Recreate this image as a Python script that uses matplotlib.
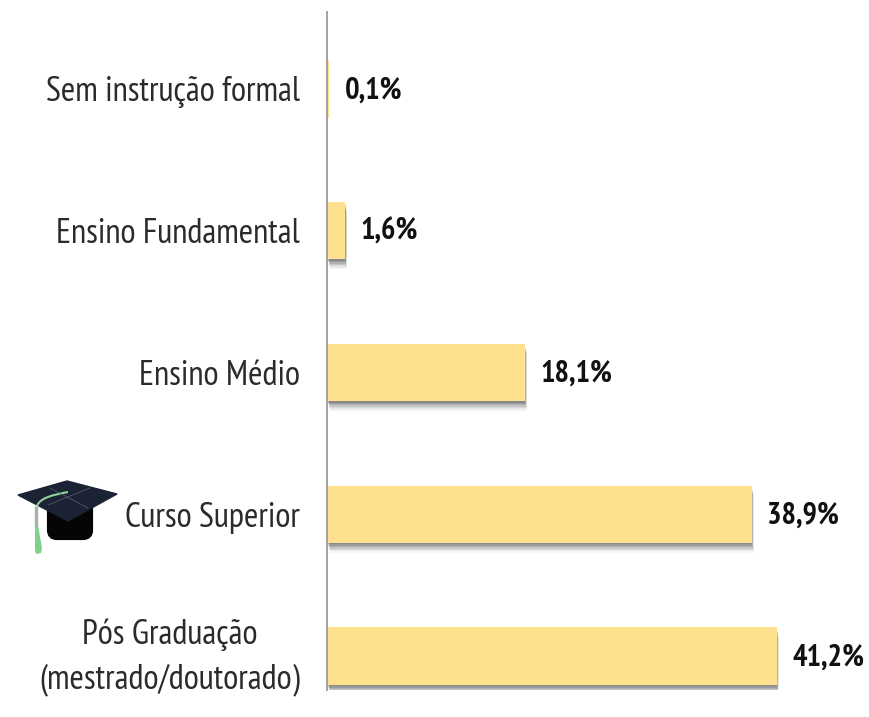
import matplotlib
matplotlib.use("Agg")
import matplotlib.pyplot as plt
import matplotlib.patheffects as pe
from matplotlib.patches import Polygon, FancyBboxPatch, PathPatch
from matplotlib.path import Path
from matplotlib.transforms import ScaledTranslation

plt.rcParams['font.family'] = ['PT Sans Narrow', 'Lato', 'DejaVu Sans']

categories = ["Sem instrução formal", "Ensino Fundamental", "Ensino Médio",
              "Curso Superior", "Pós Graduação\n(mestrado/doutorado)"]
values = [0.1, 1.6, 18.1, 38.9, 41.2]
value_labels = ["0,1%", "1,6%", "18,1%", "38,9%", "41,2%"]

W, H = 870, 717
fig = plt.figure(figsize=(W / 100, H / 100), dpi=100)

# axes box in pixels, bars start on the vertical line
left, right, top, bottom = 327.5, 870, 12, 690
ax = fig.add_axes([left / W, 1 - bottom / H, (right - left) / W, (bottom - top) / H])
ax.set_xlim(0, (right - left) / 10.9)
ax.set_ylim(4 + 34 / 142, -77 / 142)

# soft shadow under the bars
shadow = [pe.SimplePatchShadow(offset=(o * 0.25, -o), shadow_rgbFace="#444444", alpha=a)
          for o, a in [(7.0, 0.04), (6.0, 0.07), (5.0, 0.1), (4.0, 0.13), (3.0, 0.16), (2.0, 0.2), (1.0, 0.2)]] + [pe.Normal()]
bars = ax.barh(range(len(values)), values, height=0.405, color="#FFE08F", linewidth=0)
for b, v in zip(bars, values):
    if v > 0.5:
        b.set_path_effects(shadow)

for i, (v, lab) in enumerate(zip(values, value_labels)):
    ax.annotate(lab, (v, i), xytext=(11.5, -1), textcoords="offset points", va="center",
                ha="left", fontsize=22, fontweight="bold", color="#111111")

ax.set_yticks(range(len(values)))
ax.set_yticklabels(categories, fontsize=25, color="#2b2b2b", linespacing=1.5, ma="center")
ax.tick_params(axis="y", length=0, pad=20)
# two line label sits too low with the default anchor
last = ax.get_yticklabels()[-1]
last.set_transform(last.get_transform() + ScaledTranslation(0, 9 / 100, fig.dpi_scale_trans))
ax.set_xticks([])
for s in ["top", "right", "bottom"]:
    ax.spines[s].set_visible(False)
ax.spines["left"].set_color("#9a9a9a")
ax.spines["left"].set_linewidth(1.3)

# graduation cap, drawn in pixel coordinates
hat = fig.add_axes([0, 0, 1, 1], zorder=3)
hat.set_xlim(0, W)
hat.set_ylim(H, 0)
hat.axis("off")
hat.patch.set_alpha(0)
hat.add_patch(FancyBboxPatch((49, 500), 42, 38, boxstyle="round,pad=0,rounding_size=8",
                             fc="#050505", ec="#050505", lw=3))
hat.add_patch(Polygon([(18, 495), (67, 481), (117, 494), (68, 521)], closed=True,
                      fc="#1b2233", ec="#1b2233"))
hat.plot([50, 88], [488, 508], color="#5a6170", lw=0.5)
hat.plot([48, 90], [505, 488], color="#5a6170", lw=0.5)
string = Path([(68, 492), (52, 495), (40, 498), (37, 506)],
              [Path.MOVETO, Path.CURVE4, Path.CURVE4, Path.CURVE4])
hat.add_patch(PathPatch(string, fc="none", ec="#8fd39a", lw=1.5))
hat.plot([36.5, 36.5], [506, 526], color="#a9b5a5", lw=2.5, solid_capstyle="butt")
hat.add_patch(Polygon([(35, 525), (38, 525), (42, 548), (41, 553), (36, 554), (35, 550)],
                      closed=True, fc="#7fd08a", ec="none"))

fig.savefig("out.png", dpi=100)
